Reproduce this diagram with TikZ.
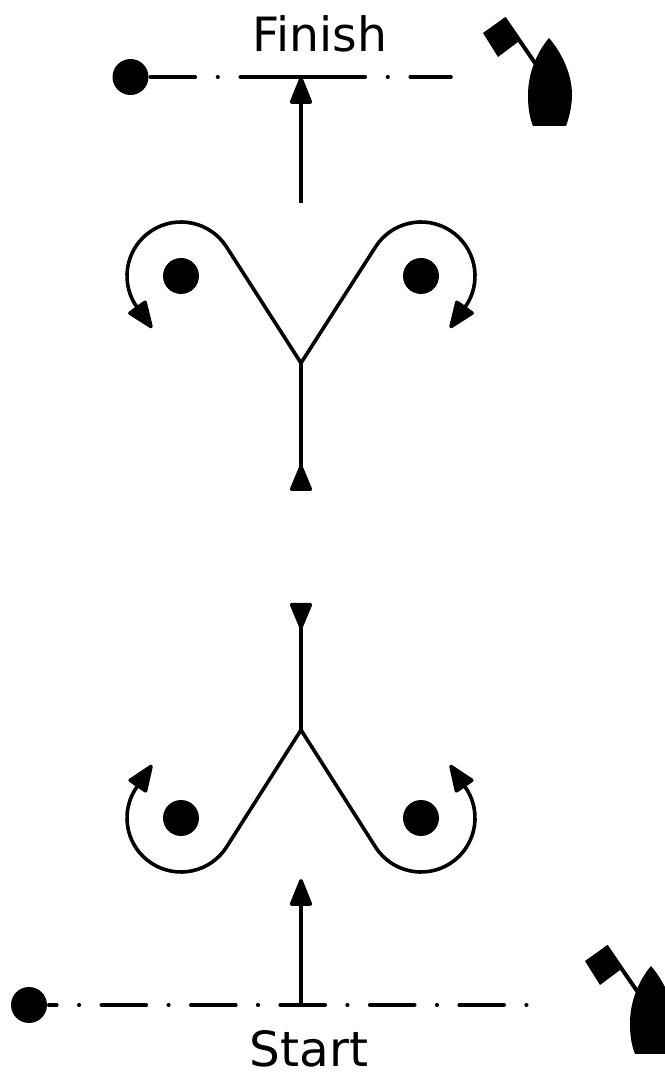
\documentclass[tikz,border=0pt]{standalone}
\usepackage{fontspec}
\setmainfont{DejaVu Sans}
\usetikzlibrary{arrows.meta}
\tikzset{
    buoy/.style={circle, fill=black, inner sep=0pt, minimum size=0.72cm},
    label/.style={anchor=base, inner sep=0pt, font=\fontsize{26.9pt}{30pt}\selectfont},
    backtip/.tip={Triangle[length=0.58cm, width=0.46cm, round, reversed]},
    startline/.style={line cap=round, dash pattern=on 0.90cm off 0.44cm on 0.01cm off 0.44cm, dash phase=0.74cm},
    finishline/.style={line cap=round, dash pattern=on 0.90cm off 0.445cm on 0.01cm off 0.445cm on 2.50cm off 0.445cm on 0.01cm off 0.445cm on 0.85cm off 1cm},
    boat/.pic={
        \fill (0,0) .. controls (12,-14) and (23,-35) .. (23,-57) .. controls (23,-68) and (20,-80) .. (17,-88) -- (-16,-88) .. controls (-20,-78) and (-21,-68) .. (-21,-57) .. controls (-21,-35) and (-12,-14) .. (0,0) -- cycle;
        \fill (-66,5) -- (-45,20) -- (-31,-4) -- (-51,-19) -- cycle;
        \draw [line width=0.08cm] (-45,20) -- (-14,-25);
    }
}
\begin{document}
\begin{tikzpicture}[x=0.02cm, y=0.02cm, >={Triangle[length=0.6cm, width=0.46cm, round]}, line width=0.072cm]
        \clip (0,0) rectangle (665,1072);

        % Finish line
        \node [buoy] (buoyFinish) at (130.5,995) {};
        \coordinate (endFinish) at (451,995);
        \coordinate (midFinish) at (301,995);
        \coordinate (fromFinish) at (301,869);
        \draw [finishline] (buoyFinish) -- (endFinish);
        \draw [->] (fromFinish) -- (midFinish);
        \node [label] (textFinish) at (320,1020) {Finish};
        \pic at (549,1034) {boat};

        % Upper marks
        \node [buoy] (markTL) at (181,796) {};
        \node [buoy] (markTR) at (421,796) {};
        \coordinate (forkT) at (301,709);
        \coordinate (stemT) at (301,581);
        \coordinate (tipTL) at (152,744);
        \coordinate (tipTR) at (450,744);
        \draw [-{backtip}] (forkT) -- (stemT);
        \draw [->] (forkT) -- ([shift={(32.7:54)}]markTL.center) arc [start angle=32.7, end angle=211, radius=54] -- (tipTL);
        \draw [->] (forkT) -- ([shift={(147.3:54)}]markTR.center) arc [start angle=147.3, end angle=-31, radius=54] -- (tipTR);

        % Lower marks
        \node [buoy] (markBL) at (181,254) {};
        \node [buoy] (markBR) at (421,254) {};
        \coordinate (forkB) at (301,342);
        \coordinate (stemB) at (301,469);
        \coordinate (tipBL) at (152,307);
        \coordinate (tipBR) at (450,307);
        \draw [-{backtip}] (forkB) -- (stemB);
        \draw [->] (forkB) -- ([shift={(-32.7:54)}]markBL.center) arc [start angle=-32.7, end angle=-211, radius=54] -- (tipBL);
        \draw [->] (forkB) -- ([shift={(212.7:54)}]markBR.center) arc [start angle=212.7, end angle=391, radius=54] -- (tipBR);

        % Start line
        \node [buoy] (buoyStart) at (29,67) {};
        \coordinate (endStart) at (527,67);
        \coordinate (midStart) at (301,67);
        \coordinate (toStart) at (301,193);
        \draw [startline] (buoyStart) -- (endStart);
        \draw [->] (midStart) -- (toStart);
        \node [label, font=\fontsize{27.6pt}{30pt}\selectfont] (textStart) at (309,6) {Start};
        \pic at (651,106) {boat};
    \end{tikzpicture}
\end{document}
